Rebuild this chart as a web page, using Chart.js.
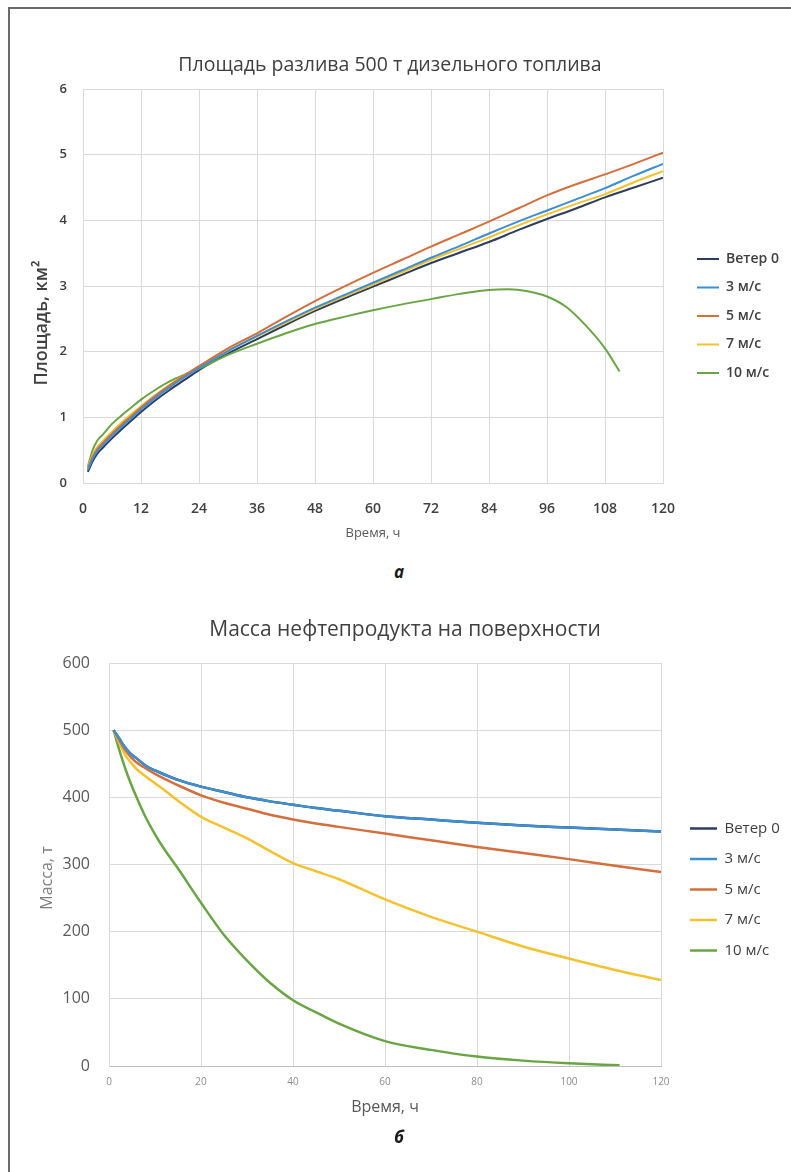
<!DOCTYPE html>
<html lang="ru">
<head>
<meta charset="utf-8">
<title>Площадь разлива и масса нефтепродукта</title>
<script src="https://cdn.jsdelivr.net/npm/chart.js@4/dist/chart.umd.min.js"></script>
<style>
  html, body { margin: 0; padding: 0; background: #fff; }
  body { width: 791px; height: 1172px; overflow: hidden; position: relative; font-family: "Open Sans", sans-serif; }
  #frame { position: absolute; left: 8px; top: 7px; width: 820px; height: 1200px;
           border-left: 2px solid #6b6b6b; border-top: 2px solid #6b6b6b; }
  /* canvases are wider than the page so the titles sit where the original has them */
  #areaChart { position: absolute; left: -90px; top: 0; }
  #massChart { position: absolute; left: -75px; top: 590px; }
  .caption { position: absolute; width: 40px; height: 24px; line-height: 24px; text-align: center;
             font: italic 700 17px "Open Sans", sans-serif; color: #1a1a1a; }
</style>
</head>
<body>
<div id="frame"></div>
<canvas id="areaChart" width="960" height="560"></canvas>
<div class="caption" style="left:379px; top:560px;">а</div>
<canvas id="massChart" width="960" height="560"></canvas>
<div class="caption" style="left:379px; top:1125px;">б</div>

<script>
// ---- data ----
const seriesNames = ['Ветер 0', '3 м/с', '5 м/с', '7 м/с', '10 м/с'];
const seriesColors = ['#2f3d5c', '#3d8fd1', '#d36f3c', '#f4c12f', '#6aa545'];

// (а) spill area, km²
const hoursArea = [1, 2, 3, 4, 6, 8, 10, 12, 15, 18, 21, 24, 30, 36, 42, 48, 54, 60, 66, 72, 78, 84, 90, 96, 102, 108, 114, 120];
const areaWind0 = [0.17, 0.33, 0.45, 0.53, 0.68, 0.82, 0.95, 1.08, 1.26, 1.42, 1.57, 1.72, 1.97, 2.19, 2.41, 2.62, 2.81, 2.99, 3.17, 3.35, 3.51, 3.67, 3.85, 4.02, 4.18, 4.35, 4.5, 4.65];
const area3 = [0.2, 0.37, 0.49, 0.57, 0.72, 0.86, 0.99, 1.12, 1.3, 1.46, 1.61, 1.75, 2.01, 2.24, 2.46, 2.67, 2.86, 3.05, 3.24, 3.43, 3.61, 3.8, 3.98, 4.15, 4.32, 4.49, 4.68, 4.86];
const area5 = [0.22, 0.4, 0.52, 0.6, 0.75, 0.89, 1.02, 1.15, 1.33, 1.49, 1.64, 1.78, 2.05, 2.28, 2.53, 2.77, 2.99, 3.2, 3.4, 3.6, 3.79, 3.98, 4.18, 4.38, 4.55, 4.7, 4.86, 5.03];
const area7 = [0.24, 0.43, 0.55, 0.63, 0.78, 0.92, 1.05, 1.17, 1.34, 1.5, 1.64, 1.77, 2.02, 2.23, 2.44, 2.65, 2.84, 3.02, 3.21, 3.4, 3.57, 3.74, 3.92, 4.09, 4.25, 4.4, 4.58, 4.75];
const hoursArea10 = [1, 2, 3, 4, 6, 8, 10, 12, 15, 18, 21, 24, 30, 36, 42, 48, 54, 60, 66, 72, 78, 84, 88, 92, 96, 100, 104, 108, 111];
const area10 = [0.25, 0.5, 0.65, 0.73, 0.9, 1.03, 1.15, 1.27, 1.42, 1.55, 1.65, 1.74, 1.95, 2.12, 2.28, 2.42, 2.53, 2.63, 2.72, 2.8, 2.88, 2.94, 2.95, 2.92, 2.84, 2.68, 2.4, 2.05, 1.7];

// (б) mass on the surface, t
const hoursMass = [1, 2, 3, 4, 5, 6, 8, 10, 12, 15, 20, 25, 30, 35, 40, 45, 50, 60, 70, 80, 90, 100, 110, 120];
const massWind0 = [500, 490, 479, 470, 463, 458, 447, 440, 434, 426, 416, 408, 400, 394, 389, 384, 380, 372, 367, 362, 358, 355, 352, 349];
const mass3 = [500, 490, 479, 470, 463, 458, 447, 440, 434, 426, 416, 408, 400, 394, 389, 384, 380, 372, 367, 362, 358, 355, 352, 349];
const mass5 = [500, 488, 476, 466, 458, 452, 443, 435, 428, 418, 403, 392, 383, 374, 367, 361, 356, 346, 336, 326, 317, 308, 298, 289];
const mass7 = [500, 485, 470, 458, 450, 442, 431, 421, 411, 395, 371, 355, 339, 320, 302, 290, 278, 248, 222, 200, 178, 160, 143, 128];
const hoursMass10 = [1, 2, 3, 4, 5, 6, 8, 10, 12, 15, 20, 25, 30, 35, 40, 45, 50, 60, 70, 80, 90, 100, 111];
const mass10 = [500, 476, 454, 434, 416, 400, 370, 345, 323, 294, 243, 195, 157, 124, 98, 80, 63, 37, 24, 14, 8, 4, 1];

const FONT = '"Open Sans", sans-serif';

function toPoints(xs, ys) {
    return ys.map((y, i) => ({ x: xs[i], y: y }));
}

function makeDatasets(pairs, width) {
    return pairs.map((p, i) => ({
        label: seriesNames[i],
        data: toPoints(p[0], p[1]),
        borderColor: seriesColors[i],
        backgroundColor: seriesColors[i],
        borderWidth: width,
        pointRadius: 0,
        fill: false,
        cubicInterpolationMode: 'monotone',
        order: i === 0 ? 1 : 0 // keep "Ветер 0" underneath
    }));
}

// rotated y-axis caption, drawn where the original places it
const sideTitle = {
    id: 'sideTitle',
    afterDraw(chart, args, opts) {
        const ctx = chart.ctx;
        ctx.save();
        ctx.translate(opts.x, opts.y);
        ctx.rotate(-Math.PI / 2);
        ctx.font = opts.font;
        ctx.fillStyle = opts.color;
        ctx.textAlign = 'center';
        ctx.textBaseline = 'middle';
        ctx.fillText(opts.text, 0, 0);
        ctx.restore();
    }
};

// empty right-hand axes: a fixed gap before the legend, and a filler after it
function spacer(weight, widthFn) {
    return {
        type: 'linear', axis: 'y', position: 'right', weight: weight,
        display: true,
        grid: { display: false }, border: { display: false }, ticks: { display: false },
        afterFit: s => { s.width = widthFn(s); }
    };
}

function buildChart(canvasId, cfg) {
    const canvas = document.getElementById(canvasId);
    const rightSpace = canvas.width - cfg.plotRight - cfg.gap;
    return new Chart(canvas, {
        type: 'line',
        data: { datasets: cfg.datasets },
        plugins: [sideTitle],
        options: {
            responsive: false,
            animation: false,
            layout: { padding: 0 },
            scales: {
                x: {
                    type: 'linear', min: 0, max: 120,
                    grid: { color: '#dadada', drawTicks: false },
                    border: { color: cfg.xBorder },
                    ticks: { stepSize: cfg.xStep, padding: cfg.xTickPad, color: cfg.xTickColor, font: cfg.xTickFont },
                    title: { display: true, text: 'Время, ч', color: cfg.xTitleColor, font: cfg.xTitleFont, padding: { top: 0, bottom: cfg.xTitlePad } },
                    afterFit: s => { s.height = cfg.xHeight; }
                },
                y: {
                    min: cfg.yMin, max: cfg.yMax,
                    grid: { color: '#dadada', drawTicks: false },
                    border: { color: '#dadada' },
                    ticks: { stepSize: cfg.yStep, padding: cfg.yTickPad, color: cfg.yTickColor, font: cfg.yTickFont },
                    afterFit: s => { s.width = cfg.yWidth; }
                },
                gap: spacer(0, () => cfg.gap),
                filler: spacer(2000, s => Math.max(0, rightSpace - s.chart.legend.width))
            },
            plugins: {
                title: {
                    display: true, text: cfg.title, color: '#404040', font: cfg.titleFont,
                    padding: cfg.titlePad
                },
                legend: {
                    position: 'right',
                    // empty title only pushes the legend rows down a little
                    title: { display: true, text: '', font: { size: 12 }, padding: cfg.legendShift },
                    labels: {
                        usePointStyle: true, pointStyle: 'line', pointStyleWidth: cfg.legendLine,
                        padding: cfg.legendPad, color: '#404040', font: cfg.legendFont,
                        sort: (a, b) => a.datasetIndex - b.datasetIndex
                    }
                },
                tooltip: { enabled: false },
                sideTitle: cfg.side
            }
        }
    });
}

buildChart('areaChart', {
    datasets: makeDatasets([[hoursArea, areaWind0], [hoursArea, area3], [hoursArea, area5], [hoursArea, area7], [hoursArea10, area10]], 2),
    title: 'Площадь разлива 500 т дизельного топлива',
    titleFont: { family: FONT, size: 19.5, weight: 'normal' },
    titlePad: { top: 53.3, bottom: 12.3 },
    xStep: 12, xTickPad: 18, xTickColor: '#404040', xTickFont: { family: FONT, size: 14, weight: '600' },
    xTitleColor: '#595959', xTitleFont: { family: FONT, size: 13 }, xTitlePad: 19.2, xHeight: 77,
    xBorder: '#dadada',
    yMin: 0, yMax: 6, yStep: 1, yTickPad: 16, yTickColor: '#404040', yTickFont: { family: FONT, size: 13, weight: '600' },
    yWidth: 173, plotRight: 753,
    gap: 19.5,
    legendShift: { top: 28.8, bottom: 28.8 }, legendLine: 22, legendPad: 14.5,
    legendFont: { family: FONT, size: 14, weight: '600' },
    side: { text: 'Площадь, км²', x: 132, y: 323, font: '600 18px ' + FONT, color: '#404040' }
});

buildChart('massChart', {
    datasets: makeDatasets([[hoursMass, massWind0], [hoursMass, mass3], [hoursMass, mass5], [hoursMass, mass7], [hoursMass10, mass10]], 2.5),
    title: 'Масса нефтепродукта на поверхности',
    titleFont: { family: FONT, size: 21, weight: 'normal' },
    titlePad: { top: 27.4, bottom: 20.4 },
    xStep: 20, xTickPad: 10, xTickColor: '#8c8c8c', xTickFont: { family: FONT, size: 10 },
    xTitleColor: '#595959', xTitleFont: { family: FONT, size: 16 }, xTitlePad: 33.4, xHeight: 84,
    xBorder: '#bfbfbf',
    yMin: 0, yMax: 600, yStep: 100, yTickPad: 19, yTickColor: '#595959', yTickFont: { family: FONT, size: 16 },
    yWidth: 184, plotRight: 736,
    gap: 13.5,
    legendShift: { top: 12.3, bottom: 12.3 }, legendLine: 27, legendPad: 15.5,
    legendFont: { family: FONT, size: 15 },
    side: { text: 'Масса, т', x: 122, y: 288, font: '16px ' + FONT, color: '#7f7f7f' }
});
</script>
</body>
</html>
